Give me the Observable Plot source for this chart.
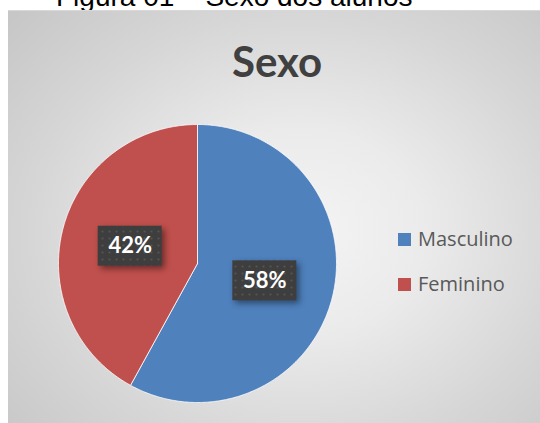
<!DOCTYPE html>
<html>
<head>
<meta charset="utf-8">
<script src="https://cdn.jsdelivr.net/npm/d3@7"></script>
<script src="https://cdn.jsdelivr.net/npm/@observablehq/plot@0.6"></script>
<style>
  html, body { margin: 0; padding: 0; }
  body { width: 540px; height: 423px; overflow: hidden; position: relative; background: #fff; }
  #cap { position: absolute; left: 56px; top: -17px; font: 28px "Liberation Sans", Arial, sans-serif; line-height: 1; color: #000; white-space: nowrap; }
  #box { position: absolute; left: 8px; top: 10px; width: 584px; height: 460px;
    background: radial-gradient(ellipse at 50% 48%, #f4f4f4 0%, #ebebeb 30%, #d6d6d6 65%, #c4c4c4 100%);
    border-top: 1px solid #d8d8d8; }
  #title { position: absolute; left: 0; width: 538px; top: 29px; text-align: center; font: bold 42px Lato, sans-serif; line-height: 1; color: #404040; }
  #chart { position: absolute; left: 0; top: 0; }
  .leg { position: absolute; font: 20px "Open Sans", sans-serif; line-height: 1; color: #595959; white-space: nowrap; }
  .sw { position: absolute; width: 13px; height: 13px; }
</style>
</head>
<body>
<div id="cap"></div>
<div id="box">
  <div id="chart"></div>
  <div id="title"></div>
</div>
<div id="legend"></div>
<script>
const caption = "Figura 01 – Sexo dos alunos";
const title = "Sexo";
const categories = ["Masculino", "Feminino"];
const values = [58, 42];
const colors = ["#4f81bd", "#c0504d"];
const labels = ["58%", "42%"];

document.getElementById("cap").textContent = caption;
document.getElementById("title").textContent = title;

const data = categories.map((name, i) => ({name, value: values[i], label: labels[i]}));
const arcs = d3.pie().sort(null).value(d => d.value)(data);

// polygon points for each slice (unit circle)
const pts = [];
arcs.forEach(a => {
  pts.push({name: a.data.name, x: 0, y: 0});
  const n = Math.max(2, Math.ceil((a.endAngle - a.startAngle) / (Math.PI / 360)));
  for (let k = 0; k <= n; k++) {
    const t = a.startAngle + (a.endAngle - a.startAngle) * k / n;
    pts.push({name: a.data.name, x: Math.sin(t), y: Math.cos(t)});
  }
  pts.push({name: a.data.name, x: 0, y: 0});
});
const lab = arcs.map(a => {
  const m = (a.startAngle + a.endAngle) / 2;
  return {name: a.data.name, label: a.data.label, x: 0.5 * Math.sin(m), y: 0.5 * Math.cos(m)};
});

const R = 139, cx = 189, cy = 252;
const hw = 32 / R, hh = 20 / R;

const svg = Plot.plot({
  width: 532, height: 413,
  margin: 0,
  style: {background: "transparent", overflow: "visible"},
  x: {domain: [-1, 1], range: [cx - R, cx + R], axis: null},
  y: {domain: [-1, 1], range: [cy + R, cy - R], axis: null},
  color: {domain: categories, range: colors},
  marks: [
    Plot.line(pts, {x: "x", y: "y", z: "name", fill: "name", stroke: "#ffffff", strokeWidth: 0.8, curve: "linear"}),
    Plot.rect(lab, {x1: d => d.x - hw, x2: d => d.x + hw, y1: d => d.y - hh, y2: d => d.y + hh, fill: "#404040"}),
    Plot.text(lab, {x: "x", y: "y", text: "label", fill: "white", fontSize: 22, fontWeight: "bold", fontFamily: "Lato, sans-serif"})
  ]
});
const s = d3.select(svg);
const defs = s.insert("defs", ":first-child");
const pat = defs.append("pattern").attr("id", "dots").attr("patternUnits", "userSpaceOnUse").attr("width", 7).attr("height", 7);
pat.append("rect").attr("width", 7).attr("height", 7).attr("fill", "#3e3e3e");
pat.append("circle").attr("cx", 3.5).attr("cy", 3.5).attr("r", 1.1).attr("fill", "#555555");
s.selectAll("g[aria-label=rect] rect").attr("fill", "url(#dots)").style("filter", "drop-shadow(3px 3px 3px rgba(0,0,0,0.45))");
document.getElementById("chart").appendChild(svg);

// legend
const leg = document.getElementById("legend");
const legY = [233, 278];
categories.forEach((c, i) => {
  const sw = document.createElement("div");
  sw.className = "sw"; sw.style.left = "398px"; sw.style.top = legY[i] + "px"; sw.style.background = colors[i];
  leg.appendChild(sw);
  const t = document.createElement("div");
  t.className = "leg"; t.style.left = "418px"; t.style.top = (legY[i] - 4) + "px"; t.textContent = c;
  leg.appendChild(t);
});
</script>
</body>
</html>
